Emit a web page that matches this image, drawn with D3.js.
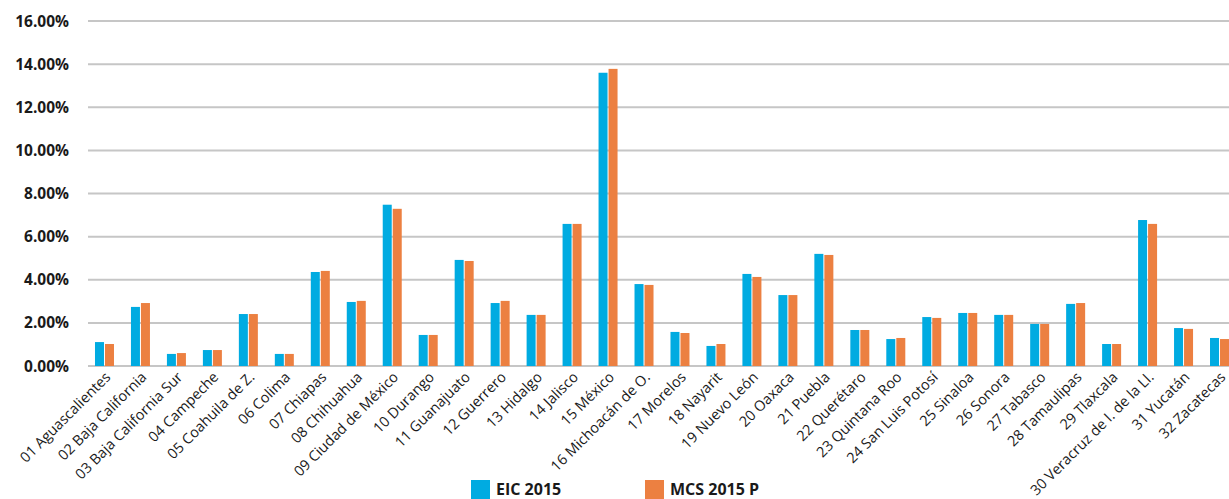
<!DOCTYPE html>
<html><head><meta charset="utf-8">
<script src="https://cdn.jsdelivr.net/npm/d3@7"></script>
<style>
body{margin:0;background:#fff;}
svg text{font-family:"Open Sans","Lato",sans-serif;}
</style></head>
<body><svg id="c" width="1229" height="499"></svg>
<script>
const categories = ["01 Aguascalientes","02 Baja California","03 Baja California Sur","04 Campeche","05 Coahuila de Z.","06 Colima","07 Chiapas","08 Chihuahua","09 Ciudad de México","10 Durango","11 Guanajuato","12 Guerrero","13 Hidalgo","14 Jalisco","15 México","16 Michoacán de O.","17 Morelos","18 Nayarit","19 Nuevo León","20  Oaxaca","21 Puebla","22 Querétaro","23 Quintana Roo","24 San Luis Potosí","25 Sinaloa","26 Sonora","27 Tabasco","28 Tamaulipas","29 Tlaxcala","30 Veracruz de I. de la Ll.","31 Yucatán","32 Zacatecas"];
const eic2015 = [1.11,2.74,0.56,0.74,2.41,0.56,4.36,2.97,7.48,1.44,4.92,2.92,2.37,6.59,13.60,3.80,1.58,0.93,4.27,3.29,5.20,1.67,1.25,2.27,2.46,2.37,1.95,2.88,1.02,6.77,1.76,1.30];
const mcs2015 = [1.02,2.92,0.60,0.74,2.41,0.56,4.41,3.02,7.29,1.44,4.87,3.02,2.37,6.59,13.78,3.76,1.53,1.02,4.13,3.29,5.15,1.67,1.30,2.23,2.46,2.37,1.95,2.92,1.02,6.59,1.72,1.25];
const seriesNames = ["EIC 2015","MCS 2015 P"];
const yTicks = [0,2,4,6,8,10,12,14,16];
const colors = ["#00abe1","#ec8041"];

const svg = d3.select("#c");
const x = d3.scaleBand().domain(categories).range([86.5,1237.5]);
const y = d3.scaleLinear().domain([0,16]).range([366,21]);

// gridlines
svg.append("g").selectAll("line").data(yTicks).join("line")
  .attr("x1",88).attr("x2",1229)
  .attr("y1",d=>y(d)).attr("y2",d=>y(d))
  .attr("stroke","#c6c6c6").attr("stroke-width",2);

// y labels
svg.append("g").selectAll("text").data(yTicks).join("text")
  .attr("x",69).attr("y",d=>y(d)+5.5)
  .attr("text-anchor","end").attr("font-size",15.5).attr("font-weight","bold").attr("fill","#1a1a1a")
  .text(d=>d3.format(".2f")(d)+"%");

const bw = 9;
const series = [eic2015, mcs2015];
series.forEach((vals,si)=>{
  svg.append("g").selectAll("rect").data(vals).join("rect")
    .attr("x",(d,i)=>x(categories[i])+x.bandwidth()/2 - bw - 0.5 + si*(bw+1))
    .attr("y",d=>y(d))
    .attr("width",bw)
    .attr("height",d=>y(0)-y(d))
    .attr("fill",colors[si]);
});

// x labels
svg.append("g").selectAll("text").data(categories).join("text")
  .attr("transform",d=>`translate(${x(d)+x.bandwidth()/2+7},378) rotate(-45)`)
  .attr("text-anchor","end").attr("font-size",14.5).attr("fill","#1a1a1a")
  .text(d=>d);

// legend
const legX = [471,645];
seriesNames.forEach((n,i)=>{
  svg.append("rect").attr("x",legX[i]).attr("y",480).attr("width",19).attr("height",19).attr("fill",colors[i]);
  svg.append("text").attr("x",legX[i]+25).attr("y",494.5).attr("font-size",16).attr("font-weight","bold").attr("fill","#1a1a1a").text(n);
});
</script></body></html>
